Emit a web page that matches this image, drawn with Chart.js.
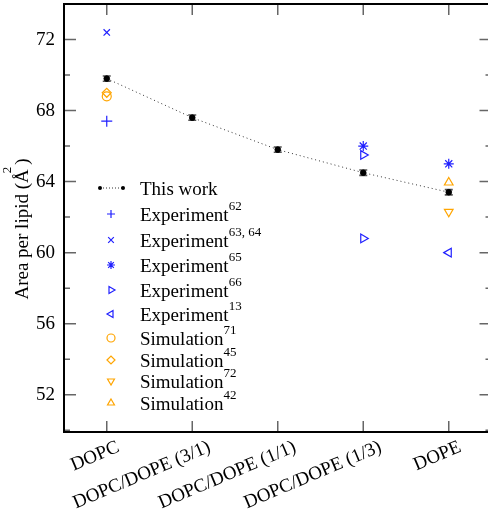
<!DOCTYPE html>
<html lang="en">
<head>
    <meta charset="UTF-8">
    <title>Area per lipid</title>
    <script src="https://cdn.jsdelivr.net/npm/chart.js"></script>
    <style>
        * { margin: 0; padding: 0; box-sizing: border-box; }
        body { background: #ffffff; }
        .chart-container { width: 488px; height: 522px; position: relative; }
    </style>
</head>
<body>
    <div class="chart-container">
        <canvas id="apl"></canvas>
    </div>

    <script>
        const categories = ['DOPC', 'DOPC/DOPE (3/1)', 'DOPC/DOPE (1/1)', 'DOPC/DOPE (1/3)', 'DOPE'];
        const yTicks = [52, 56, 60, 64, 68, 72];

        // this work, with error bars
        const thisWork = [69.8, 67.6, 65.8, 64.5, 63.4];
        const thisWorkErr = [0.15, 0.15, 0.15, 0.15, 0.15];

        // [category, value] pairs
        const exp62 = [['DOPC', 67.4]];
        const exp6364 = [['DOPC', 72.4]];
        const exp65 = [['DOPC/DOPE (1/3)', 66.0], ['DOPE', 65.0]];
        const exp66 = [['DOPC/DOPE (1/3)', 65.5], ['DOPC/DOPE (1/3)', 60.8]];
        const exp13 = [['DOPE', 60.0]];
        const sim71 = [['DOPC', 68.8]];
        const sim45 = [['DOPC', 69.0]];
        const sim72 = [['DOPE', 62.3]];
        const sim42 = [['DOPE', 63.95]];

        const BLUE = '#2020ff';
        const ORANGE = '#ffa500';
        const FONT = '"Liberation Serif", "DejaVu Serif", serif';

        function pts(pairs) {
            return pairs.map(p => ({ x: categories.indexOf(p[0]), y: p[1] }));
        }

        function markerSet(label, sup, pairs, color, style, rotation, radius) {
            return {
                type: 'scatter',
                label: label,
                sup: sup,
                data: pts(pairs),
                pointStyle: style,
                rotation: rotation,
                pointRadius: radius,
                borderColor: color,
                backgroundColor: 'rgba(0,0,0,0)',
                pointBorderWidth: 1.2,
                borderWidth: 1.2
            };
        }

        const datasets = [
            {
                type: 'line',
                label: 'This work',
                sup: '',
                data: thisWork.map((v, i) => ({ x: i, y: v })),
                borderColor: '#333333',
                borderWidth: 1,
                borderDash: [1, 3],
                pointRadius: 2.8,
                pointBackgroundColor: '#000000',
                pointBorderColor: '#000000',
                fill: false,
                tension: 0
            },
            markerSet('Experiment', '62', exp62, BLUE, 'cross', 0, 5.5),
            markerSet('Experiment', '63, 64', exp6364, BLUE, 'crossRot', 0, 4.5),
            markerSet('Experiment', '65', exp65, BLUE, 'star', 0, 5),
            markerSet('Experiment', '66', exp66, BLUE, 'triangle', 90, 5),
            markerSet('Experiment', '13', exp13, BLUE, 'triangle', -90, 5),
            markerSet('Simulation', '71', sim71, ORANGE, 'circle', 0, 4.5),
            markerSet('Simulation', '45', sim45, ORANGE, 'rectRot', 0, 4.5),
            markerSet('Simulation', '72', sim72, ORANGE, 'triangle', 180, 5),
            markerSet('Simulation', '42', sim42, ORANGE, 'triangle', 0, 5)
        ];

        // error bars, frame, inner ticks, axis texts and legend
        const extras = {
            id: 'extras',
            beforeDatasetsDraw(chart) {
                const ctx = chart.ctx;
                const x = chart.scales.x, y = chart.scales.y;
                ctx.save();
                ctx.strokeStyle = '#555555';
                ctx.lineWidth = 1.6;
                thisWork.forEach((v, i) => {
                    const px = x.getPixelForValue(i);
                    const y1 = y.getPixelForValue(v - thisWorkErr[i]);
                    const y2 = y.getPixelForValue(v + thisWorkErr[i]);
                    ctx.beginPath();
                    ctx.moveTo(px, y1); ctx.lineTo(px, y2);
                    ctx.moveTo(px - 4, y1); ctx.lineTo(px + 4, y1);
                    ctx.moveTo(px - 4, y2); ctx.lineTo(px + 4, y2);
                    ctx.stroke();
                });
                ctx.restore();
            },
            afterDraw(chart) {
                const ctx = chart.ctx;
                const a = chart.chartArea;
                const x = chart.scales.x, y = chart.scales.y;
                // the frame's right side sits just past the canvas edge
                const right = x.getPixelForValue(4.5);
                ctx.save();
                // ticks
                ctx.strokeStyle = '#666666';
                ctx.lineWidth = 1.5;
                ctx.beginPath();
                categories.forEach((c, i) => {
                    const px = x.getPixelForValue(i);
                    ctx.moveTo(px, a.bottom); ctx.lineTo(px, a.bottom - 11);
                    ctx.moveTo(px, a.top); ctx.lineTo(px, a.top + 11);
                });
                for (let v = 50; v <= 72; v += 2) {
                    const py = y.getPixelForValue(v);
                    const len = v % 4 === 0 ? 12 : 6;
                    ctx.moveTo(a.left, py); ctx.lineTo(a.left + len, py);
                    ctx.moveTo(right, py); ctx.lineTo(right - len, py);
                }
                ctx.stroke();
                // frame
                ctx.strokeStyle = '#000000';
                ctx.lineWidth = 2;
                ctx.strokeRect(a.left, a.top, right - a.left, a.bottom - a.top);

                // rotated category labels
                ctx.fillStyle = '#000000';
                ctx.font = '19px ' + FONT;
                ctx.textAlign = 'right';
                ctx.textBaseline = 'alphabetic';
                categories.forEach((c, i) => {
                    const w = ctx.measureText(c).width;
                    const px = x.getPixelForValue(i) + 13.5 + (w - 50) * 0.06;
                    ctx.save();
                    ctx.translate(px, 451);
                    ctx.rotate(-23 * Math.PI / 180);
                    ctx.fillText(c, 0, 0);
                    ctx.restore();
                });

                // y title with superscript
                ctx.save();
                ctx.translate(28, 228);
                ctx.rotate(-Math.PI / 2);
                ctx.textAlign = 'left';
                const t1 = 'Area per lipid (Å', t2 = '2', t3 = ')';
                ctx.font = '19px ' + FONT;
                const w1 = ctx.measureText(t1).width, w3 = ctx.measureText(t3).width;
                ctx.font = '13px ' + FONT;
                const w2 = ctx.measureText(t2).width;
                let sx = -(w1 + w2 + w3) / 2;
                ctx.font = '19px ' + FONT;
                ctx.fillText(t1, sx, 0);
                ctx.font = '13px ' + FONT;
                ctx.fillText(t2, sx + w1 - 4, -17);
                ctx.font = '19px ' + FONT;
                ctx.fillText(t3, sx + w1 + w2 - 2, 0);
                ctx.restore();

                // legend
                const rows = [188, 214, 240, 265, 290, 314, 338, 360, 381, 403];
                const mx = 111, tx = 140;
                chart.data.datasets.forEach((ds, i) => {
                    const ry = rows[i];
                    if (ds.type === 'line') {
                        ctx.strokeStyle = '#333333';
                        ctx.lineWidth = 1;
                        ctx.setLineDash([1, 2]);
                        ctx.beginPath();
                        ctx.moveTo(mx - 11, ry); ctx.lineTo(mx + 12, ry);
                        ctx.stroke();
                        ctx.setLineDash([]);
                        ctx.fillStyle = '#000000';
                        [mx - 11, mx + 12].forEach(dx => {
                            ctx.beginPath();
                            ctx.arc(dx, ry, 2, 0, Math.PI * 2);
                            ctx.fill();
                        });
                    } else {
                        ctx.strokeStyle = ds.borderColor;
                        ctx.fillStyle = 'rgba(0,0,0,0)';
                        ctx.lineWidth = 1.2;
                        Chart.helpers.drawPoint(ctx, {
                            pointStyle: ds.pointStyle,
                            rotation: ds.rotation,
                            radius: 4,
                            borderWidth: 1.2
                        }, mx, ry);
                    }
                    ctx.fillStyle = '#000000';
                    ctx.textBaseline = 'alphabetic';
                    ctx.textAlign = 'left';
                    ctx.font = '19px ' + FONT;
                    ctx.fillText(ds.label, tx, ry + 7);
                    if (ds.sup) {
                        const w = ctx.measureText(ds.label).width;
                        ctx.font = '13px ' + FONT;
                        ctx.fillText(ds.sup, tx + w, ry - 4);
                    }
                });
                ctx.restore();
            }
        };

        new Chart(document.getElementById('apl'), {
            data: { datasets: datasets },
            plugins: [extras],
            options: {
                responsive: true,
                maintainAspectRatio: false,
                animation: false,
                layout: { autoPadding: false, padding: { left: 0, top: 4, right: 0, bottom: 0 } },
                plugins: {
                    legend: { display: false },
                    tooltip: { enabled: false }
                },
                scales: {
                    x: {
                        type: 'linear',
                        min: -0.5,
                        max: 4.459,
                        grid: { display: false, drawTicks: false },
                        border: { display: false },
                        afterBuildTicks: s => { s.ticks = categories.map((c, i) => ({ value: i })); },
                        afterFit: s => { s.height = 90; s.paddingLeft = 0; s.paddingRight = 0; },
                        ticks: { display: false }
                    },
                    y: {
                        min: 49.9,
                        max: 74.0,
                        grid: { display: false, drawTicks: false },
                        border: { display: false },
                        afterBuildTicks: s => { s.ticks = yTicks.map(v => ({ value: v })); },
                        afterFit: s => { s.width = 64; s.paddingTop = 0; s.paddingBottom = 0; },
                        ticks: {
                            padding: 9,
                            color: '#000000',
                            font: { family: FONT, size: 19 }
                        }
                    }
                }
            }
        });
    </script>
</body>
</html>
